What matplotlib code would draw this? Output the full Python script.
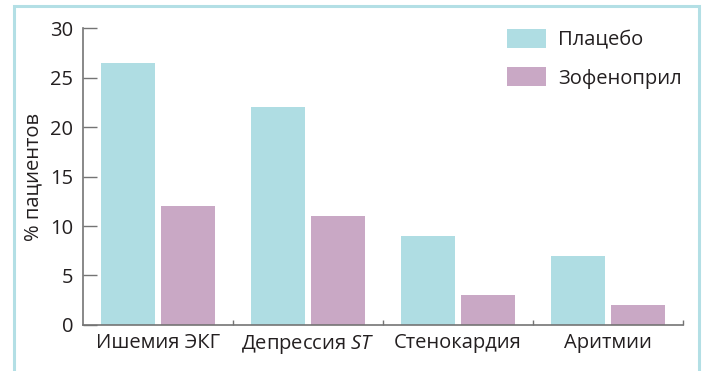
import matplotlib

matplotlib.use("Agg")
import matplotlib.pyplot as plt
import numpy as np
from matplotlib.patches import Rectangle

categories = ["Ишемия ЭКГ", "Депрессия $\\mathit{ST}$", "Стенокардия", "Аритмии"]
series_names = ["Плацебо", "Зофеноприл"]
placebo = [26.5, 22.0, 9.0, 7.0]
zofenopril = [12.0, 11.0, 3.0, 2.0]
y_ticks = [0, 5, 10, 15, 20, 25, 30]

TEAL = "#afdde3"
MAUVE = "#c9a8c5"
AXIS_GREY = "#747474"
TEXT = "#231f20"
FONT_SIZE = 14.5

plt.rcParams["font.family"] = ["Open Sans", "DejaVu Sans"]
plt.rcParams["mathtext.fontset"] = "custom"
plt.rcParams["mathtext.it"] = "Open Sans:italic"
plt.rcParams["mathtext.rm"] = "Open Sans"

fig = plt.figure(figsize=(7.03, 3.71), dpi=100)
fig.patch.set_facecolor("white")
ax = fig.add_axes([0.118, 0.124, 0.8535, 0.8005])

x = np.arange(len(categories))
width = 0.36
offset = 0.197
ax.bar(x - offset, placebo, width, color=TEAL, label=series_names[0], zorder=2)
ax.bar(x + offset, zofenopril, width, color=MAUVE, label=series_names[1], zorder=2)

ax.set_xlim(-0.5, len(categories) - 0.5)
ax.set_ylim(0, 30)
ax.set_yticks(y_ticks)
ax.set_xticks(x)
ax.set_xticklabels(categories)
ax.set_xticks(np.arange(len(categories)) + 0.5, minor=True)

for side in ("top", "right"):
    ax.spines[side].set_visible(False)
for side in ("left", "bottom"):
    ax.spines[side].set_color(AXIS_GREY)
    ax.spines[side].set_linewidth(1.2)

ax.tick_params(axis="y", direction="in", length=10, width=1.0, color=AXIS_GREY,
               labelsize=FONT_SIZE, labelcolor=TEXT, pad=7)
ax.tick_params(axis="x", which="major", length=0, labelsize=FONT_SIZE, labelcolor=TEXT, pad=6)
ax.tick_params(axis="x", which="minor", direction="in", length=3.5, width=1.0, color=AXIS_GREY)
ax.set_ylabel("% пациентов", fontsize=FONT_SIZE, color=TEXT, labelpad=5)

ax.legend(loc="upper left", bbox_to_anchor=(507 / 703, 1 - 29 / 371), bbox_transform=fig.transFigure,
          frameon=False, fontsize=FONT_SIZE, handlelength=1.95, handleheight=1.05,
          handletextpad=0.6, labelspacing=0.85, labelcolor=TEXT, borderpad=0, borderaxespad=0)

# light frame around the figure, open at the bottom edge
fig.add_artist(Rectangle((14 / 703, -0.05), 685 / 703, 1.05 - 6 / 371,
                         transform=fig.transFigure, fill=False,
                         edgecolor="#b3dfe5", linewidth=2.2, clip_on=False))

fig.savefig("out.png", dpi=100, facecolor="white")
